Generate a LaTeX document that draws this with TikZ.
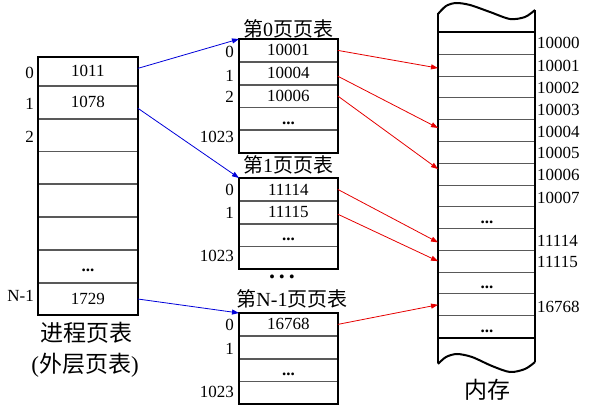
\documentclass[tikz,border=0pt]{standalone}
\usepackage{fontspec}
\setmainfont{Liberation Serif}
\newfontfamily\cjk{Noto Sans CJK SC}
\usetikzlibrary{arrows.meta}
\newcommand\mydots{\vphantom{0}\textbf{...}}
\begin{document}
\begin{tikzpicture}[x=1pt,y=-1pt,
  cell/.style={draw=black!65, line width=0.8pt, inner sep=0pt, minimum width=98pt, anchor=north west, font=\fontsize{17}{17}\selectfont},
  outer/.style={draw=black, line width=2pt},
  idx/.style={anchor=east, inner sep=0pt, font=\fontsize{17}{17}\selectfont},
  addr/.style={anchor=west, inner sep=0pt, font=\fontsize{17}{17}\selectfont},
  ttl/.style={inner sep=0pt, font=\fontsize{20}{20}\selectfont},
  captext/.style={inner sep=0pt, font=\fontsize{23}{23}\selectfont},
  barrow/.style={draw=blue!85!black, line width=0.8pt, -{Triangle[length=7pt,width=5pt]}},
  rarrow/.style={draw=red!90!black, line width=0.8pt, -{Triangle[length=7pt,width=5pt]}},
]
\useasboundingbox (0,0) rectangle (597,409);

% ---------- outer (process) page table ----------
\node[cell, minimum width=99pt, minimum height=28pt] (L0) at (38,57) {1011};
\node[cell, minimum width=99pt, minimum height=32pt] (L1) at (L0.south west) {1078};
\node[cell, minimum width=99pt, minimum height=32pt] (L2) at (L1.south west) {};
\node[cell, minimum width=99pt, minimum height=32pt] (L3) at (L2.south west) {};
\node[cell, minimum width=99pt, minimum height=32pt] (L4) at (L3.south west) {};
\node[cell, minimum width=99pt, minimum height=32pt] (L5) at (L4.south west) {};
\node[cell, minimum width=99pt, minimum height=32pt] (L6) at (L5.south west) {\mydots};
\node[cell, minimum width=99pt, minimum height=32pt] (L7) at (L6.south west) {1729};
\draw[outer] (L0.north west) rectangle (L7.south east);
\node[idx] (li0) at (34,73) {0};
\node[idx] (li1) at (34,104) {1};
\node[idx] (li2) at (34,137) {2};
\node[idx] (liN) at (34,296) {N-1};
\node[captext] (cap1) at (86,333) {\cjk 进程页表};
\node[captext] (cap2) at (85,365) {({\cjk 外层页表})};

% ---------- page table 0 ----------
\node[ttl] (t0t) at (288,29) {{\cjk 第}0{\cjk 页页表}};
\node[cell, minimum height=22pt] (T0r0) at (239,39) {10001};
\node[cell, minimum height=22pt] (T0r1) at (T0r0.south west) {10004};
\node[cell, minimum height=22pt] (T0r2) at (T0r1.south west) {10006};
\node[cell, minimum height=22pt] (T0r3) at (T0r2.south west) {\mydots};
\node[cell, minimum height=22pt] (T0r4) at (T0r3.south west) {};
\draw[outer] (T0r0.north west) rectangle (T0r4.south east);
\node[idx] (t0i0) at (234,52) {0};
\node[idx] (t0i1) at (234,76) {1};
\node[idx] (t0i2) at (234,97) {2};
\node[idx] (t0i3) at (234,137) {1023};

% ---------- page table 1 ----------
\node[ttl] (t1t) at (288,165) {{\cjk 第}1{\cjk 页页表}};
\node[cell, minimum height=22pt] (T1r0) at (239,178) {11114};
\node[cell, minimum height=22pt] (T1r1) at (T1r0.south west) {11115};
\node[cell, minimum height=22pt] (T1r2) at (T1r1.south west) {\mydots};
\node[cell, minimum height=22pt] (T1r3) at (T1r2.south west) {};
\draw[outer] (T1r0.north west) rectangle (T1r3.south east);
\node[idx] (t1i0) at (234,190) {0};
\node[idx] (t1i1) at (234,213) {1};
\node[idx] (t1i3) at (234,256) {1023};

\node[inner sep=0pt, font=\fontsize{24}{24}\selectfont\bfseries] (gap) at (282,277) {.\hspace{4pt}.\hspace{4pt}.};

% ---------- page table N-1 ----------
\node[ttl] (tNt) at (292,299) {{\cjk 第}N-1{\cjk 页页表}};
\node[cell, minimum height=22pt] (TNr0) at (239,313) {16768};
\node[cell, minimum height=22pt] (TNr1) at (TNr0.south west) {};
\node[cell, minimum height=22pt] (TNr2) at (TNr1.south west) {\mydots};
\node[cell, minimum height=22pt] (TNr3) at (TNr2.south west) {};
\draw[outer] (TNr0.north west) rectangle (TNr3.south east);
\node[idx] (tNi0) at (234,325) {0};
\node[idx] (tNi1) at (234,349) {1};
\node[idx] (tNi3) at (234,392) {1023};

% ---------- memory ----------
\foreach \i/\t in {0/,1/,2/,3/,4/,5/,6/,7/,8/\mydots,9/,10/,11/\mydots,12/,13/\mydots}
  \node[cell, minimum width=97pt, minimum height=21.79pt] (M\i) at (438,32+21.79*\i) {\t};
\draw[outer] (M0.north west) -- (M0.north east);
\draw[outer] (M13.south west) -- (M13.south east);
\draw[outer] (438,363) -- (438,13);
\draw[outer] (535,362) -- (535,10);
\draw[outer] plot[smooth] coordinates {(438,14) (446,6) (456,3) (470,5) (490,12) (510,19) (525,17) (535,10)};
\draw[outer] plot[smooth] coordinates {(438,364) (446,357) (457,354) (472,357) (492,366) (510,372) (525,369) (535,362)};
\node[captext] (mem) at (487,390) {\cjk 内存};

\node[addr] (A0) at (537,43) {10000};
\node[addr] (A1) at (537,66) {10001};
\node[addr] (A2) at (537,88) {10002};
\node[addr] (A3) at (537,110) {10003};
\node[addr] (A4) at (537,132) {10004};
\node[addr] (A5) at (537,153) {10005};
\node[addr] (A6) at (537,175) {10006};
\node[addr] (A7) at (537,198) {10007};
\node[addr] (A9) at (537,241) {11114};
\node[addr] (A10) at (537,262) {11115};
\node[addr] (A12) at (537,307) {16768};

% ---------- connectors ----------
\draw[barrow] ([yshift=3pt]L0.east) -- (T0r0.north west);
\draw[barrow] ([yshift=-6pt]L1.east) -- (T1r0.north west);
\draw[barrow] (L7.east) -- (TNr0.north west);

\draw[rarrow] (T0r0.east) -- ([yshift=-3pt]M1.west);
\draw[rarrow] ([yshift=-3pt]T0r1.east) -- ([yshift=2.5pt]M4.west);
\draw[rarrow] (T0r2.east) -- ([yshift=5pt]M6.west);
\draw[rarrow] (T1r0.east) -- ([yshift=-3pt]M9.west);
\draw[rarrow] ([yshift=-2pt]T1r1.east) -- (M10.west);
\draw[rarrow] (TNr0.east) -- (M12.west);
\end{tikzpicture}
\end{document}
